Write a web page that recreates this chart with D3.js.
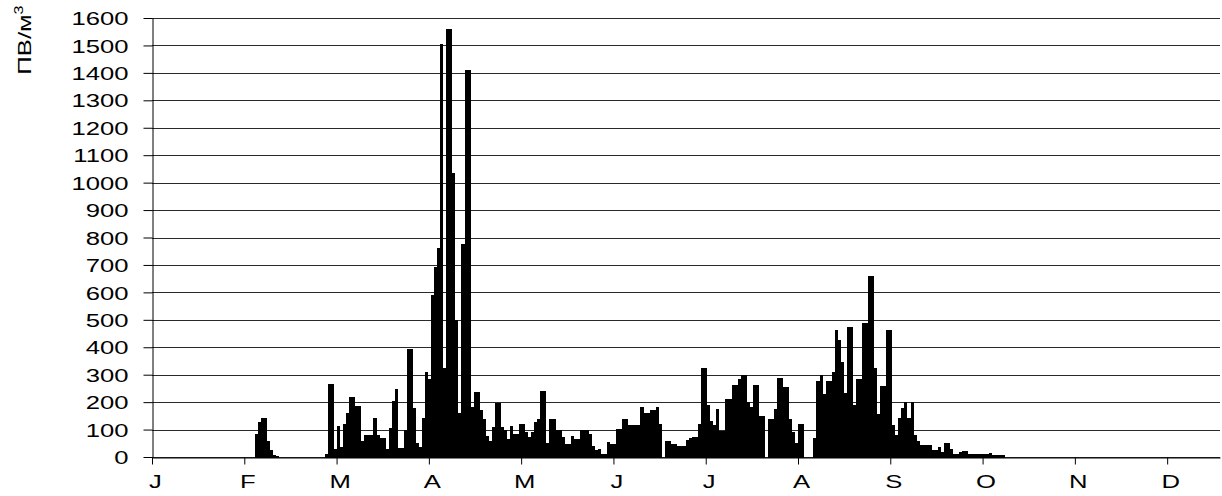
<!DOCTYPE html>
<html>
<head>
<meta charset="utf-8">
<script src="https://cdn.jsdelivr.net/npm/d3@7/dist/d3.min.js"></script>
<style>
  html, body { margin: 0; padding: 0; background: #fff; }
  svg { display: block; }
  text { font-family: "Liberation Sans", Arial, sans-serif; fill: #000; }
</style>
</head>
<body>
<svg id="chart" width="1222" height="496"></svg>
<script>
// Month labels along the x axis
const monthLabels = ["J", "F", "M", "A", "M", "J", "J", "A", "S", "O", "N", "D"];

// Y axis tick values (pollen grains per cubic metre)
const yTickValues = [0, 100, 200, 300, 400, 500, 600, 700, 800, 900, 1000,
                     1100, 1200, 1300, 1400, 1500, 1600];

// Day of year (0-based) of the first value in dailyCounts
const firstDay = 34;

// Daily counts, one per day starting at firstDay
const dailyCounts = [
  85, 128, 143, 143, 57, 25, 8, 3,
  0, 0, 0, 0, 0, 0, 0, 0, 0, 0, 0, 0, 0, 0, 0,
  10, 266, 266, 30, 112, 37, 122, 161, 217, 217, 185, 185, 58, 82, 82, 82,
  143, 79, 70, 70, 30, 106, 205, 248, 33, 33, 100, 394, 394, 179, 51, 37,
  143, 309, 284, 591, 691, 760, 1505, 323, 1560, 1560, 1036, 500, 162, 776,
  1411, 1411, 182, 237, 237, 170, 138, 78, 60, 109, 196, 196, 111, 97, 67,
  114, 84, 84, 120, 120, 90, 72, 90, 126, 138, 242, 242, 52, 138, 138, 97,
  97, 72, 47, 47, 78, 65, 65, 97, 97, 97, 84, 41, 26, 29, 12, 12, 53, 48,
  48, 101, 101, 138, 138, 115, 115, 115, 115, 182, 162, 162, 170, 170, 182,
  120, 0, 58, 58, 48, 48, 41, 41, 41, 62, 70, 72, 72, 121, 323, 323, 188,
  133, 115, 176, 96, 96, 212, 212, 262, 262, 283, 299, 299, 200, 183, 262,
  262, 151, 151, 0, 139, 139, 176, 287, 287, 256, 256, 139, 90, 52, 119,
  119, 0, 0, 0, 71, 278, 298, 228, 278, 278, 308, 463, 426, 345, 234, 475,
  475, 191, 284, 286, 487, 487, 660, 660, 325, 156, 259, 259, 463, 463, 116,
  82, 143, 179, 199, 143, 199, 82, 57, 45, 43, 43, 43, 27, 27, 37, 18, 51,
  51, 30, 12, 12, 18, 21, 21, 12, 12, 12, 12, 12, 12, 12, 15, 9, 9, 9, 9
];

const svg = d3.select("#chart");
const plotLeft = 152, plotRight = 1220, plotTop = 18, plotBottom = 457;
const dayCount = 352;
const textStretch = 1.35;

const x = d3.scaleLinear().domain([0, dayCount]).range([plotLeft, plotRight]);
const y = d3.scaleLinear().domain([0, 1600]).range([plotBottom, plotTop]);

const bars = dailyCounts.map((v, i) => ({ day: firstDay + i, value: v }));

// Horizontal gridlines
svg.append("g")
  .selectAll("line")
  .data(yTickValues)
  .join("line")
  .attr("x1", plotLeft)
  .attr("x2", plotRight)
  .attr("y1", d => Math.round(y(d)) + 0.5)
  .attr("y2", d => Math.round(y(d)) + 0.5)
  .attr("stroke", "#2a2a2a")
  .attr("stroke-width", 1);

// Bars: snapped to whole pixels so neighbouring days join without seams
svg.append("g")
  .attr("shape-rendering", "crispEdges")
  .selectAll("rect")
  .data(bars.filter(d => d.value > 0))
  .join("rect")
  .attr("x", d => Math.round(x(d.day)))
  .attr("width", d => Math.round(x(d.day + 1)) - Math.round(x(d.day)))
  .attr("y", d => Math.round(y(d.value)))
  .attr("height", d => Math.round(y(0)) - Math.round(y(d.value)) + 1)
  .attr("fill", "#000");

// Y axis
const yAxis = svg.append("g")
  .attr("transform", `translate(${plotLeft + 0.5},0)`)
  .call(d3.axisLeft(y).tickValues(yTickValues).tickSize(9).tickSizeOuter(0)
    .tickFormat(d3.format("d")));
yAxis.select(".domain").attr("stroke", "#000");
yAxis.selectAll(".tick line").attr("stroke", "#000");
yAxis.selectAll(".tick text")
  .attr("x", 0)
  .attr("dy", "0.35em")
  .attr("transform", `translate(-24,0) scale(${textStretch},1)`)
  .style("font-size", "19px")
  .style("font-family", '"Liberation Sans", Arial, sans-serif')
  .attr("fill", "#000");

// X axis with month ticks
const monthDays = monthLabels.map((m, i) => i * 365 / 12);
const xAxis = svg.append("g")
  .attr("transform", `translate(0,${plotBottom + 0.5})`)
  .call(d3.axisBottom(x).tickValues(monthDays).tickSize(7).tickSizeOuter(0)
    .tickFormat((d, i) => monthLabels[i]));
xAxis.select(".domain").attr("stroke", "#000");
xAxis.selectAll(".tick line").attr("stroke", "#000");
xAxis.selectAll(".tick text")
  .attr("y", 0)
  .attr("dy", 0)
  .attr("transform", `translate(3,30) scale(${textStretch},1)`)
  .style("font-size", "19px")
  .style("font-family", '"Liberation Sans", Arial, sans-serif')
  .attr("fill", "#000");

// Y axis title
const title = svg.append("text")
  .attr("transform", `translate(31,40) rotate(-90) scale(${textStretch},1)`)
  .attr("text-anchor", "middle")
  .style("font-size", "19px");
title.append("tspan").text("ПВ/м");
title.append("tspan").attr("dy", -8).style("font-size", "12px").text("3");
</script>
</body>
</html>
